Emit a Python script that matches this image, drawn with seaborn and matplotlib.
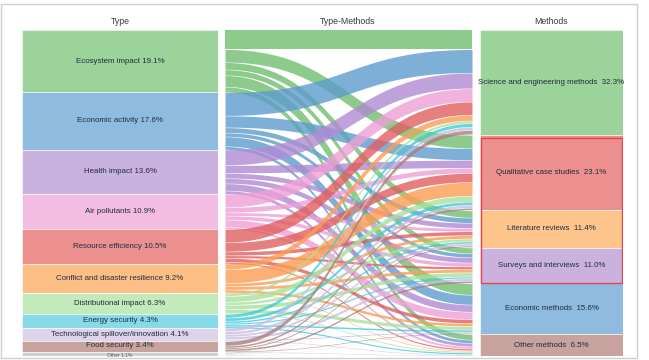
import numpy as np
import matplotlib
matplotlib.use("Agg")
import matplotlib.pyplot as plt
import seaborn as sns
from matplotlib.patches import Rectangle

sns.set_theme(style="white")
plt.rcParams['font.family'] = ['Liberation Sans', 'DejaVu Sans']

# ---------------- data ----------------
types = ["Ecosystem impact", "Economic activity", "Health impact", "Air pollutants",
         "Resource efficiency", "Conflict and disaster resilience", "Distributional impact",
         "Energy security", "Technological spillover/innovation", "Food security", "Other"]
type_pct = [19.1, 17.6, 13.6, 10.9, 10.5, 9.2, 6.3, 4.3, 4.1, 3.4, 1.1]

methods = ["Science and engineering methods", "Qualitative case studies", "Literature reviews",
           "Surveys and interviews", "Economic methods", "Other methods"]
method_pct = [32.3, 23.1, 11.4, 11.0, 15.6, 6.5]

# flow shares (% of all) : rows = types, columns = methods
flow_ecosystem = [5.9, 4.0, 2.2, 1.8, 3.5, 1.7]
flow_economic = [7.2, 3.6, 1.6, 1.2, 3.0, 1.0]
flow_health = [4.8, 2.4, 1.6, 1.6, 2.2, 1.0]
flow_air = [4.1, 1.6, 1.0, 1.2, 2.3, 0.7]
flow_resource = [4.0, 2.8, 1.2, 0.8, 1.2, 0.5]
flow_conflict = [1.8, 4.2, 1.0, 1.0, 0.9, 0.3]
flow_distributional = [0.8, 1.8, 0.9, 1.3, 1.1, 0.4]
flow_energy = [1.1, 1.0, 0.6, 0.5, 0.6, 0.5]
flow_tech = [1.0, 0.9, 0.7, 0.8, 0.4, 0.3]
flow_food = [1.3, 0.6, 0.4, 0.6, 0.3, 0.2]
flow_other = [0.3, 0.2, 0.2, 0.2, 0.1, 0.1]

flows = np.array([flow_ecosystem, flow_economic, flow_health, flow_air, flow_resource,
                  flow_conflict, flow_distributional, flow_energy, flow_tech, flow_food,
                  flow_other])

type_node_colors = ["#9bd39a", "#8fbbde", "#c9b3de", "#f3bde3", "#ec8f8f", "#fdbf86",
                    "#c3eabb", "#86dbe6", "#ddd3ea", "#c8a39d", "#cfcfcf"]
type_flow_colors = ["#6fbe6f", "#5e9ccd", "#b08ad2", "#ee9fd6", "#e05f5f", "#fd9d52",
                    "#a9e29e", "#45cadb", "#cabde2", "#a9807a", "#b5b5b5"]
method_node_colors = ["#9bd39a", "#ec8f8f", "#fdc58c", "#c9b3de", "#8fbbde", "#c8a39d"]

# ---------------- layout ----------------
W, H = 649, 360
fig = plt.figure(figsize=(W / 100, H / 100), dpi=100)
fig.patch.set_facecolor("white")

def fx(px):
    return px / W

top_px, bot_px = 30, 356
ay = 1 - bot_px / H
ah = (bot_px - top_px) / H

ax_l = fig.add_axes([fx(22), ay, fx(196), ah])
ax_m = fig.add_axes([fx(225), ay, fx(247), ah])
ax_r = fig.add_axes([fx(480), ay, fx(143), ah])

type_tot = flows.sum(axis=1)
meth_tot = flows.sum(axis=0)
total = flows.sum()

for ax in (ax_l, ax_m, ax_r):
    ax.set_ylim(total, 0)
    ax.set_axis_off()

txtc = "#1f2d3d"

# left nodes
ax_l.set_xlim(-0.5, 0.5)
cum = np.concatenate([[0], np.cumsum(type_tot)[:-1]])
ax_l.bar(np.zeros(len(types)), type_tot, bottom=cum, width=1.0,
         color=type_node_colors, edgecolor="white", linewidth=0.4)
for i, (name, p) in enumerate(zip(types, type_pct)):
    yc = cum[i] + type_tot[i] / 2
    if name == "Other":
        ax_l.text(0, yc + 0.25, f"{name} {p}%", ha="center", va="center", fontsize=3.6, color="#555")
    elif name == "Food security":
        ax_l.text(0, yc - 0.35, f"{name} {p}%", ha="center", va="center", fontsize=5.7, color=txtc)
    else:
        ax_l.text(0, yc, f"{name} {p}%", ha="center", va="center", fontsize=5.7, color=txtc)

# right nodes
ax_r.set_xlim(-0.5, 0.5)
mcum = np.concatenate([[0], np.cumsum(meth_tot)[:-1]])
ax_r.bar(np.zeros(len(methods)), meth_tot, bottom=mcum, width=1.0,
         color=method_node_colors, edgecolor="white", linewidth=0.4)
for j, (name, p) in enumerate(zip(methods, method_pct)):
    yc = mcum[j] + meth_tot[j] / 2
    ax_r.text(0, yc, f"{name}  {p}%", ha="center", va="center", fontsize=5.7, color=txtc,
              clip_on=False)
# red highlight box around qualitative methods
y0 = mcum[1] + 0.9
y1 = mcum[3] + meth_tot[3]
ax_r.add_patch(Rectangle((-0.49, y0), 0.98, y1 - y0, fill=False, edgecolor="#e8434a",
                         linewidth=1.0, zorder=5))

# middle flows (cubic Bezier ribbons with horizontal tangents)
ax_m.set_xlim(0, 1)
t = np.linspace(0, 1, 160)
bx = 1.5 * t - 1.5 * t ** 2 + t ** 3
by = 3 * t ** 2 - 2 * t ** 3
left_pos = np.zeros_like(flows)
right_pos = np.zeros_like(flows)
c = 0.0
for i in range(flows.shape[0]):
    for j in range(flows.shape[1]):
        left_pos[i, j] = c
        c += flows[i, j]
c = 0.0
for j in range(flows.shape[1]):
    for i in range(flows.shape[0]):
        right_pos[i, j] = c
        c += flows[i, j]

gap = 0.07
for i in range(flows.shape[0]):
    for j in range(flows.shape[1]):
        v = flows[i, j]
        yl0, yr0 = left_pos[i, j], right_pos[i, j]
        top = yl0 + (yr0 - yl0) * by + gap
        bot = top + v - 2 * gap
        ax_m.fill_between(bx, top, bot, color=type_flow_colors[i], alpha=0.8, linewidth=0)

# titles
fig.text(fx(120), 1 - 21 / H, "Type", ha="center", va="center", fontsize=6.3, color="#3a3a3a")
fig.text(fx(348), 1 - 21 / H, "Type-Methods", ha="center", va="center", fontsize=6.3, color="#3a3a3a")
fig.text(fx(551), 1 - 21 / H, "Methods", ha="center", va="center", fontsize=6.3, color="#3a3a3a")

# outer frame
fig.patches.append(Rectangle((fx(1), 1 - 358 / H), fx(636), 354 / H, transform=fig.transFigure,
                             fill=False, edgecolor="#cfcfcf", linewidth=1.0))

fig.savefig("out.png", dpi=100, facecolor="white")
